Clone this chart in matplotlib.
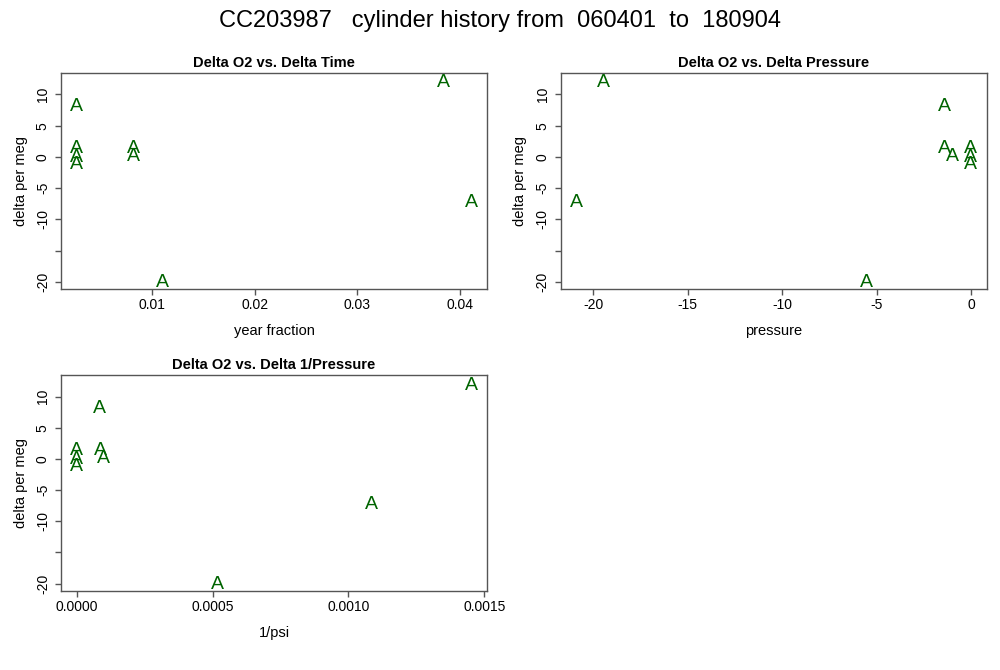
import matplotlib
matplotlib.use("Agg")
import matplotlib.pyplot as plt
from matplotlib.transforms import offset_copy

plt.rcParams['font.family'] = ['Liberation Sans', 'DejaVu Sans']
plt.rcParams['axes.unicode_minus'] = False

# values
year_fraction = [0.00268, 0.00268, 0.00268, 0.00268, 0.0082, 0.0082, 0.01098, 0.0384, 0.0411]
delta_pressure = [-1.4, 0.0, 0.0, 0.0, -1.4, -1.0, -5.56, -19.47, -20.9]
delta_inv_psi = [0.000083, 0.0, 0.0, 0.0, 0.000087, 0.000099, 0.000518, 0.001452, 0.001085]
delta_per_meg = [8.4, 1.7, 0.2, -0.9, 1.7, 0.4, -19.85, 12.2, -6.9]

y_ticks = [-20, -15, -10, -5, 0, 5, 10]
y_ticklabels = ['-20', '', '-10', '-5', '0', '5', '10']

time_ticks = [0.01, 0.02, 0.03, 0.04]
time_ticklabels = ['0.01', '0.02', '0.03', '0.04']
press_ticks = [-20, -15, -10, -5, 0]
press_ticklabels = ['-20', '-15', '-10', '-5', '0']
inv_ticks = [0.0, 0.0005, 0.0010, 0.0015]
inv_ticklabels = ['0.0000', '0.0005', '0.0010', '0.0015']

green = '#006400'
frame = '#555555'
a_size = 14


def r_limits(v):
    lo, hi = min(v), max(v)
    d = (hi - lo) * 0.04
    return lo - d, hi + d


def panel(ax, x, y, title, xlabel, xticks, xticklabels):
    # R style: centre of the capital letter sits on the point
    tr = offset_copy(ax.transData, fig=ax.figure, y=-a_size * 0.688 / 2, units='points')
    for xi, yi in zip(x, y):
        ax.text(xi, yi, 'A', color=green, fontsize=a_size, ha='center', va='baseline',
                transform=tr)
    ax.set_xlim(r_limits(x))
    ax.set_ylim(r_limits(y))
    ax.set_xticks(xticks)
    ax.set_xticklabels(xticklabels)
    ax.set_yticks(y_ticks)
    ax.set_yticklabels(y_ticklabels, rotation=90, va='center')
    for s in ax.spines.values():
        s.set_color(frame)
        s.set_linewidth(1)
    ax.tick_params(direction='out', length=4, width=1, color=frame, labelsize=10, pad=3)
    ax.tick_params(axis='y', pad=4)
    ax.set_title(title, fontsize=10.5, fontweight='bold', pad=4)
    ax.set_xlabel(xlabel, fontsize=10.5, labelpad=8)
    ax.set_ylabel('delta per meg', fontsize=10.5, labelpad=6)


fig = plt.figure(figsize=(10, 6.7), dpi=100)
ax1 = fig.add_axes([0.061, 0.569, 0.426, 0.3224])
ax2 = fig.add_axes([0.5607, 0.569, 0.426, 0.3224])
ax3 = fig.add_axes([0.061, 0.1184, 0.426, 0.322])

panel(ax1, year_fraction, delta_per_meg, 'Delta O2 vs. Delta Time', 'year fraction',
      time_ticks, time_ticklabels)
panel(ax2, delta_pressure, delta_per_meg, 'Delta O2 vs. Delta Pressure', 'pressure',
      press_ticks, press_ticklabels)
panel(ax3, delta_inv_psi, delta_per_meg, 'Delta O2 vs. Delta 1/Pressure', '1/psi',
      inv_ticks, inv_ticklabels)

fig.text(0.5, 0.968, 'CC203987   cylinder history from  060401  to  180904',
         ha='center', va='center', fontsize=17)

fig.savefig('out.png', dpi=100)
